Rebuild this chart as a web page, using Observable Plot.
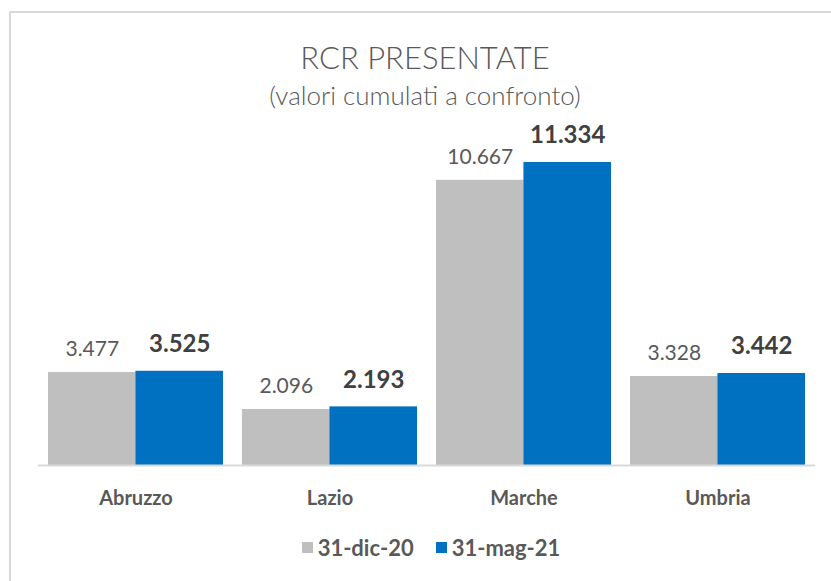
<!DOCTYPE html>
<html><head><meta charset="utf-8">
<script src="https://cdn.jsdelivr.net/npm/d3@7"></script>
<script src="https://cdn.jsdelivr.net/npm/@observablehq/plot@0.6"></script>
<style>
html,body{margin:0;padding:0;background:#fff;overflow:hidden;width:831px;height:581px;}
#frame{position:absolute;left:9px;top:11px;width:840px;height:600px;border:2px solid #d9d9d9;box-sizing:border-box;}
.t{position:absolute;left:0;width:850px;text-align:center;font-family:Lato,"Open Sans",sans-serif;color:#595959;white-space:nowrap;}
#title{top:38px;font-size:31px;font-weight:300;}
#subtitle{top:79px;font-size:26px;font-weight:300;}
#chart{position:absolute;left:0;top:120px;}
#legend{position:absolute;left:0;width:862px;top:534px;display:flex;justify-content:center;gap:22px;font-family:Lato,sans-serif;font-weight:bold;font-size:22px;color:#595959;}
#legend span.item{display:flex;align-items:center;gap:5px;}
#legend span.sw{display:inline-block;width:11px;height:11px;}
</style></head>
<body>
<div id="frame"></div>
<div class="t" id="title">RCR PRESENTATE</div>
<div class="t" id="subtitle">(valori cumulati a confronto)</div>
<div id="chart"></div>
<div id="legend"></div>
<script>
const regions = ["Abruzzo", "Lazio", "Marche", "Umbria"];
const series = ["31-dic-20", "31-mag-21"];
const dic20 = [3477, 2096, 10667, 3328];
const mag21 = [3525, 2193, 11334, 3442];
const colors = ["#bfbfbf", "#0070c0"];

const fmt = d3.formatLocale({decimal: ",", thousands: ".", grouping: [3], currency: ["€", ""]}).format(",d");
const dataA = regions.map((r, i) => ({region: r, series: series[0], value: dic20[i]}));
const dataB = regions.map((r, i) => ({region: r, series: series[1], value: mag21[i]}));

const W = 831, H = 400, mL = 38, mR = 16;
const step = (W - mL - mR) / (regions.length - 0.1 + 2 * 0.05);
const bw = step * 0.9;
const half = bw / 2;

const plot = Plot.plot({
  width: W, height: H,
  marginLeft: mL, marginRight: mR, marginTop: 42, marginBottom: 55,
  style: {fontFamily: "Lato, 'Open Sans', sans-serif", fontSize: "20px", fontWeight: "bold", color: "#595959", background: "transparent"},
  x: {type: "band", domain: regions, paddingInner: 0.1, paddingOuter: 0.05, tickSize: 0, tickPadding: 25, label: null},
  y: {domain: [0, d3.max(mag21)], axis: null},
  marks: [
    Plot.barY(dataA, {x: "region", y: "value", fill: colors[0], insetRight: half}),
    Plot.barY(dataB, {x: "region", y: "value", fill: colors[1], insetLeft: half}),
    Plot.ruleY([0], {stroke: "#d9d9d9", strokeWidth: 2}),
    Plot.text(dataA, {x: "region", y: "value", text: d => fmt(d.value), dx: -half / 2, dy: -23, fontSize: 21, fontWeight: "normal", fill: "#595959"}),
    Plot.text(dataB, {x: "region", y: "value", text: d => fmt(d.value), dx: half / 2, dy: -27, fontSize: 24, fontWeight: "bold", fill: "#404040"})
  ]
});
document.getElementById("chart").appendChild(plot);

const legend = document.getElementById("legend");
series.forEach((s, i) => {
  const item = document.createElement("span");
  item.className = "item";
  const sw = document.createElement("span");
  sw.className = "sw";
  sw.style.background = colors[i];
  item.appendChild(sw);
  item.appendChild(document.createTextNode(s));
  legend.appendChild(item);
});
</script>
</body></html>
